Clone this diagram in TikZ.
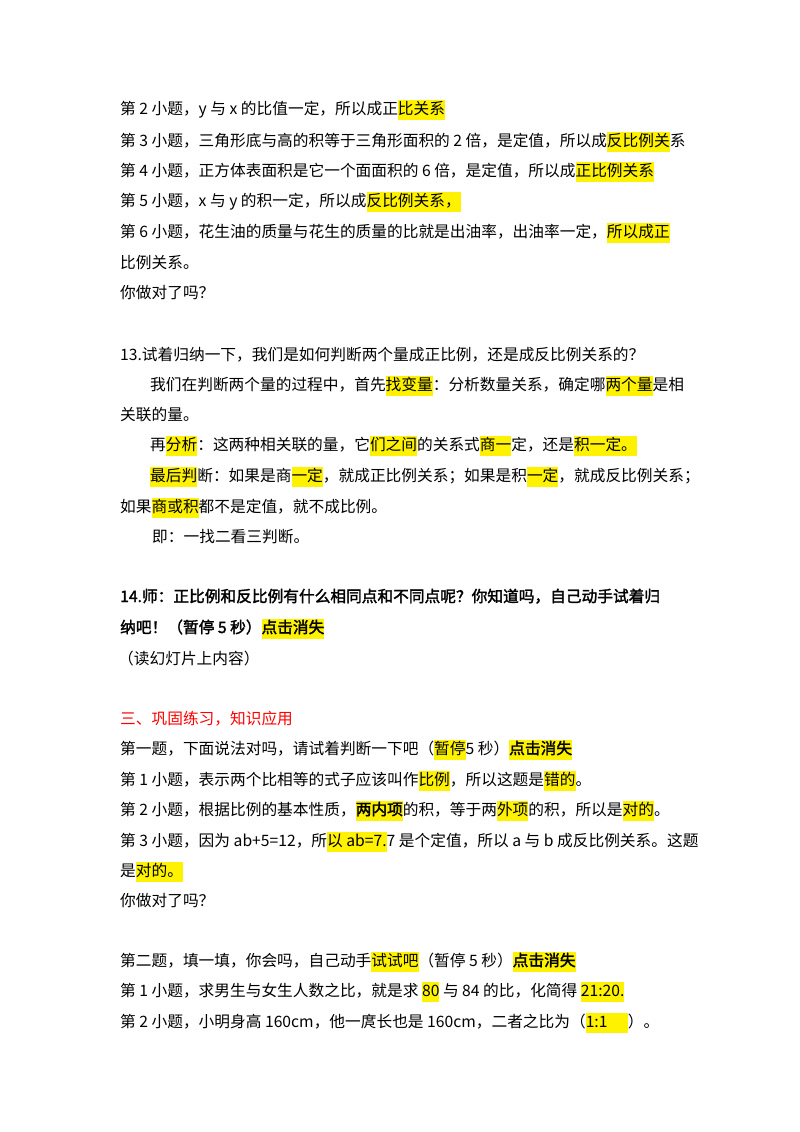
\documentclass[tikz,border=0pt]{standalone}
\usepackage{fontspec}
\setmainfont{Noto Sans CJK SC}[BoldFont={Noto Sans CJK SC},BoldFeatures={FakeBold=2}]
\newcommand\hl[1]{{\setlength\fboxsep{0pt}\colorbox{yellow}{\strut #1}}}
\tikzset{ln/.style={anchor=base west,inner sep=0pt,font=\fontsize{15.7}{20}\selectfont}}
\begin{document}
\begin{tikzpicture}[x=1pt,y=-1pt]
\useasboundingbox (0,0) rectangle (800,1132);
\node[ln] (l1) at (120,114) {第 2 小题，y 与 x 的比值一定，所以成正\hl{比关系}};
\node[ln] (l2) at (120,146) {第 3 小题，三角形底与高的积等于三角形面积的 2 倍，是定值，所以成\hl{反比例关}系};
\node[ln] (l3) at (120,176) {第 4 小题，正方体表面积是它一个面面积的 6 倍，是定值，所以成\hl{正比例关系}};
\node[ln] (l4) at (120,206) {第 5 小题，x 与 y 的积一定，所以成\hl{反比例关系，}};
\node[ln] (l5) at (120,237) {第 6 小题，花生油的质量与花生的质量的比就是出油率，出油率一定，\hl{所以成正}};
\node[ln] (l6) at (120,268) {比例关系。};
\node[ln] (l7) at (120,298) {你做对了吗？};
\node[ln] (l8) at (120,360) {13.试着归纳一下，我们是如何判断两个量成正比例，还是成反比例关系的？};
\node[ln] (l9) at (150,390) {我们在判断两个量的过程中，首先\hl{找变量}：分析数量关系，确定哪\hl{两个量}是相};
\node[ln] (l10) at (120,420) {关联的量。};
\node[ln] (l11) at (150,450) {再\hl{分析}：这两种相关联的量，它\hl{们之间}的关系式\hl{商一}定，还是\hl{积一定。}};
\node[ln] (l12) at (150,481) {\hl{最后判}断：如果是商\hl{一定}，就成正比例关系；如果是积\hl{一定}，就成反比例关系；};
\node[ln] (l13) at (120,512) {如果\hl{商或积}都不是定值，就不成比例。};
\node[ln] (l14) at (152,542) {即：一找二看三判断。};
\node[ln,font=\fontsize{15.7}{20}\selectfont\bfseries] (l15) at (120,602) {14.师：正比例和反比例有什么相同点和不同点呢？你知道吗，自己动手试着归};
\node[ln,font=\fontsize{15.7}{20}\selectfont\bfseries] (l16) at (120,633) {纳吧！（暂停 5 秒）\hl{点击消失}};
\node[ln] (l17) at (118,664) {（读幻灯片上内容）};
\node[ln,text=red] (l18) at (120,724) {三、巩固练习，知识应用};
\node[ln] (l19) at (120,754) {第一题，下面说法对吗，请试着判断一下吧（\hl{暂停}5 秒）\hl{\bfseries 点击消失}};
\node[ln] (l20) at (120,785) {第 1 小题，表示两个比相等的式子应该叫作\hl{比例}，所以这题是\hl{错的}。};
\node[ln] (l21) at (120,815) {第 2 小题，根据比例的基本性质，\hl{\bfseries 两内项}的积，等于两\hl{外项}的积，所以是\hl{对的}。};
\node[ln] (l22) at (120,846) {第 3 小题，因为 ab+5=12，所\hl{以 ab=7.}7 是个定值，所以 a 与 b 成反比例关系。这题};
\node[ln] (l23) at (120,876) {是\hl{对的。}};
\node[ln] (l24) at (120,906) {你做对了吗？};
\node[ln] (l25) at (120,966) {第二题，填一填，你会吗，自己动手\hl{试试吧}（暂停 5 秒）\hl{\bfseries 点击消失}};
\node[ln] (l26) at (120,996) {第 1 小题，求男生与女生人数之比，就是求 \hl{80} 与 84 的比，化简得 \hl{21:20.}};
\node[ln] (l27) at (120,1027) {第 2 小题，小明身高 160cm，他一庹长也是 160cm，二者之比为（\hl{1:1\hspace{1.3em}}）。};
\end{tikzpicture}
\end{document}
